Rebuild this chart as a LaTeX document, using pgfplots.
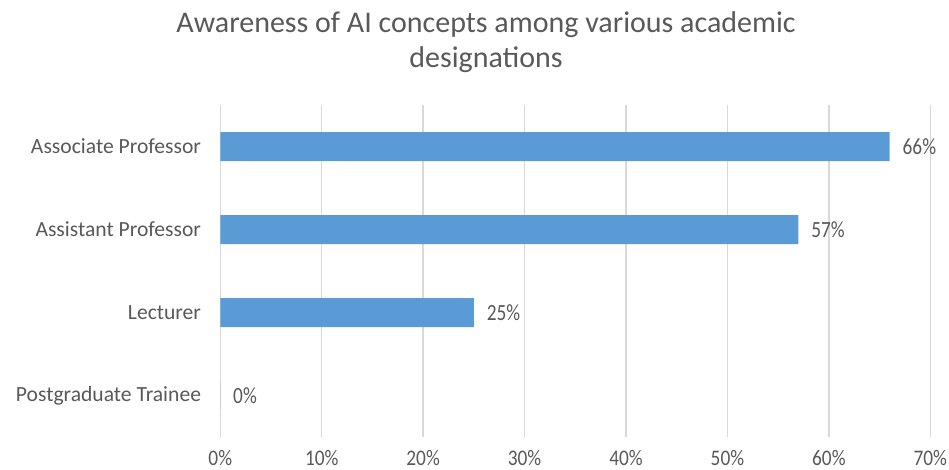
\documentclass[border=0pt]{standalone}
\usepackage{pgfplots}
\pgfplotsset{compat=1.18}
\usepackage{fontspec}
\setmainfont{Carlito}
\definecolor{barblue}{HTML}{5B9BD5}
\definecolor{txt}{HTML}{595959}
\definecolor{gridc}{HTML}{D9D9D9}
\begin{document}
\begin{tikzpicture}[x=0.75pt,y=0.75pt]
\useasboundingbox (-220.3,-32) rectangle (728.7,437);
\begin{axis}[
  at={(0,0)}, anchor=south west,
  scale only axis, width=532.5pt, height=249pt,
  xbar, xmin=0, xmax=70, ymin=-0.5, ymax=3.5,
  /pgf/number format/assume math mode=true,
  ytick={0,1,2,3},
  yticklabels={Postgraduate Trainee, Lecturer, Assistant Professor, Associate Professor},
  xtick={0,10,...,70},
  xticklabel={\scalebox{1}[1.15]{\pgfmathprintnumber{\tick}\%}},
  xmajorgrids, grid style={gridc, line width=1.1pt},
  axis line style={draw=none}, major tick style={draw=none},
  yticklabel style={font=\fontsize{16.2}{19}\selectfont, text=txt, anchor=east, inner sep=0pt, xshift=-10pt},
  xticklabel style={font=\fontsize{14.5}{17}\selectfont, text=txt, anchor=base, inner sep=0pt, yshift=-21pt},
  bar width=21.75pt,
  point meta=x,
  nodes near coords={\scalebox{1}[1.2]{\pgfmathprintnumber{\pgfplotspointmeta}\%}},
  nodes near coords style={font=\fontsize{14.5}{17}\selectfont, text=txt, anchor=west, inner sep=0pt, xshift=9.5pt},
]
\addplot[fill=barblue, draw=none] coordinates {(0,0) (25,1) (57,2) (66,3)};
\end{axis}
\node[font=\fontsize{22.5}{26.25}\selectfont, text=txt, align=center] at (265.7,394.5) {Awareness of AI concepts among various academic\\designations};
\end{tikzpicture}
\end{document}
